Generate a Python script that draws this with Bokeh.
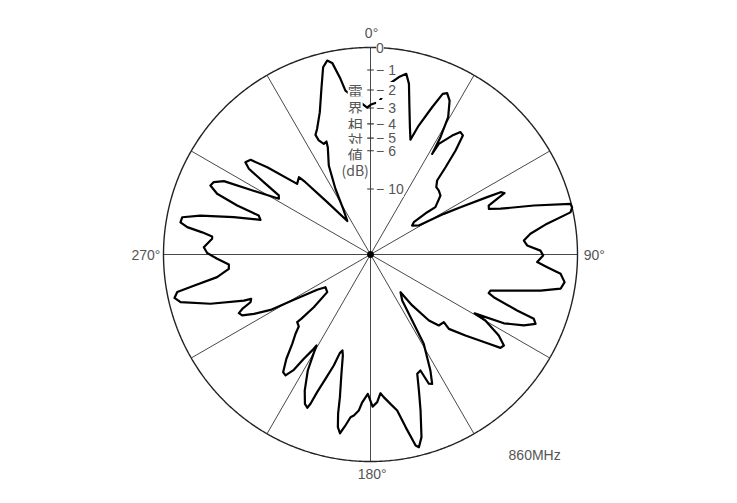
import numpy as np
from bokeh.plotting import figure
from bokeh.models import Label, Range1d
from bokeh.embed import file_html
from bokeh.resources import INLINE

# Relative field pattern at 860 MHz: bearing (deg, clockwise from 0°) and relative field (1.0 = 0 dB)
angles_deg = [
    0.0, 1.0, 3.1, 4.25, 6.35, 9.1, 11.2, 12.7, 14.8, 17.2, 19.2, 20.5, 22.7, 24.2, 25.4, 27.2,
    29.5, 30.8, 31.5, 31.7, 34.5, 36.3, 37.8, 39.3, 40.7, 42.0, 44.3, 46.9, 49.9, 53.9, 53.3,
    53.3, 55.2, 59.0, 61.0, 62.3, 63.8, 64.4, 65.4, 66.3, 67.5, 68.9, 70.6, 73.3, 75.8, 76.9,
    78.1, 80.1, 82.6, 84.8, 86.7, 88.7, 90.3, 92.6, 94.1, 95.8, 98.1, 100.2, 102.0, 106.7,
    108.1, 109.1, 110.9, 111.5, 112.8, 114.8, 117.3, 119.5, 119.9, 122.3, 124.3, 125.7, 127.0,
    130.5, 133.5, 132.7, 136.1, 138.5, 140.7, 141.5, 145.4, 147.7, 149.2, 152.7, 154.5, 155.7,
    156.7, 158.6, 160.4, 162.2, 164.4, 165.9, 166.7, 168.5, 170.3, 172.4, 174.7, 175.9, 177.4,
    179.2, 181.1, 183.2, 184.3, 185.9, 187.0, 188.5, 189.7, 190.7, 191.5, 192.1, 193.7, 195.3,
    196.3, 197.3, 198.3, 199.9, 201.2, 201.9, 202.4, 203.7, 205.8, 208.4, 209.7, 210.7, 211.3,
    212.6, 213.6, 215.1, 216.6, 218.9, 221.2, 223.4, 224.9, 227.3, 227.1, 227.1, 229.0, 234.0,
    236.5, 239.4, 241.0, 243.0, 244.6, 246.0, 247.0, 248.3, 249.6, 250.0, 252.9, 255.9, 257.5,
    259.0, 260.0, 261.6, 264.2, 266.0, 268.4, 270.5, 272.5, 275.7, 276.5, 277.5, 278.5, 279.6,
    281.2, 282.9, 285.3, 287.5, 289.2, 290.2, 291.6, 293.3, 294.8, 296.6, 298.3, 301.3, 302.8,
    304.1, 305.2, 306.4, 308.3, 310.2, 313.9, 317.2, 318.0, 320.4, 325.3, 329.1, 331.9, 334.9,
    338.3, 338.7, 337.1, 335.6, 335.3, 337.0, 340.4, 343.5, 345.8, 347.4, 348.7, 350.3, 351.3,
    358.7,
]
rel_field = [
    0.723, 0.728, 0.738, 0.762, 0.83, 0.868, 0.89, 0.845, 0.736, 0.644, 0.587, 0.665, 0.771, 0.851, 0.863, 0.836,
    0.762, 0.66, 0.57, 0.628, 0.697, 0.734, 0.728, 0.649, 0.556, 0.481, 0.455, 0.452, 0.442, 0.388, 0.342,
    0.261, 0.245, 0.272, 0.405, 0.491, 0.628, 0.697, 0.712, 0.668, 0.618, 0.613, 0.666, 0.824, 0.997, 1.0,
    0.987, 0.866, 0.779, 0.744, 0.758, 0.821, 0.834, 0.806, 0.856, 0.923, 0.947, 0.933, 0.84, 0.605,
    0.601, 0.63, 0.758, 0.848, 0.865, 0.816, 0.725, 0.578, 0.64, 0.733, 0.78, 0.773, 0.716,
    0.603, 0.522, 0.482, 0.476, 0.426, 0.318, 0.233, 0.27, 0.377, 0.502, 0.631, 0.692, 0.685,
    0.61, 0.619, 0.697, 0.791, 0.916, 0.96, 0.948, 0.851, 0.765, 0.728, 0.692, 0.672, 0.714,
    0.735, 0.673, 0.715, 0.756, 0.782, 0.792, 0.84, 0.876, 0.849, 0.785, 0.705, 0.593, 0.506,
    0.483, 0.499, 0.565, 0.639, 0.713, 0.777, 0.801, 0.788, 0.73, 0.637, 0.562, 0.511, 0.542,
    0.598, 0.669, 0.714, 0.708, 0.647, 0.574, 0.527, 0.491, 0.482, 0.457, 0.374, 0.277, 0.269,
    0.309, 0.43, 0.552, 0.632, 0.686, 0.696, 0.673, 0.624, 0.615, 0.651, 0.809, 0.946, 0.97,
    0.951, 0.867, 0.749, 0.688, 0.686, 0.741, 0.789, 0.806, 0.769, 0.77, 0.82, 0.895, 0.931,
    0.927, 0.843, 0.685, 0.557, 0.572, 0.686, 0.797, 0.842, 0.834, 0.792, 0.659, 0.518, 0.527,
    0.623, 0.719, 0.751, 0.738, 0.653, 0.492, 0.509, 0.47, 0.328, 0.197, 0.257, 0.36, 0.475,
    0.558, 0.586, 0.58, 0.605, 0.636, 0.66, 0.73, 0.835, 0.933, 0.96, 0.944, 0.861, 0.801,
    0.71,
]

db_ticks = [0, 1, 2, 3, 4, 5, 6, 10]
db_tick_labels = ["0", "\u2212 1", "\u2212 2", "\u2212 3", "\u2212 4", "\u2212 5", "\u2212 6", "\u2212 10"]
spoke_angles = [0, 30, 60, 90, 120, 150]
direction_labels = ["0°", "90°", "180°", "270°"]
freq_label = "860MHz"
axis_title = ["電", "界", "相", "対", "値", "(dB)"]

W, H = 721, 487
S = 207.0          # pixels per unit of relative field
CX, CY = 370, 254  # centre of the diagram inside the figure (pixels)

p = figure(width=W, height=H, output_backend="svg", toolbar_location=None,
           x_range=Range1d(-CX / S, (W - CX) / S), y_range=Range1d(-(H - CY) / S, CY / S),
           x_axis_location=None, y_axis_location=None, min_border=0,
           outline_line_color=None, background_fill_color="white", border_fill_color="white")
p.xgrid.visible = False
p.ygrid.visible = False

# spokes every 30°
sa = np.radians(spoke_angles)
p.segment(x0=-np.sin(sa), y0=-np.cos(sa), x1=np.sin(sa), y1=np.cos(sa),
          line_color="#333333", line_width=0.9)

# outer 0 dB circle
t = np.linspace(0, 2 * np.pi, 721)
p.line(np.sin(t), np.cos(t), line_color="#222222", line_width=1.4)

# dB ticks on the 0° axis
tick_r = [10 ** (-d / 20.0) for d in db_ticks]
p.segment(x0=[-0.016] * len(tick_r), y0=tick_r, x1=[0.016] * len(tick_r), y1=tick_r,
          line_color="#333333", line_width=1.1)

# pattern
th = np.radians(angles_deg + angles_deg[:1])
rr = np.array(rel_field + rel_field[:1])
p.line(rr * np.sin(th), rr * np.cos(th), line_color="black", line_width=2.2,
       line_join="round", line_cap="round")

# centre dot
p.scatter(x=[0], y=[0], size=6, color="black")

TXT = "#555555"
FONT = "Liberation Sans"

for r, lab in zip(tick_r, db_tick_labels):
    p.add_layout(Label(x=0.027, y=r, text=lab, text_align="left", text_baseline="middle",
                       text_font=FONT, text_font_size="14px", text_color=TXT,
                       background_fill_color="white"))

# direction labels
p.add_layout(Label(x=0.005, y=1.07, text=direction_labels[0], text_align="center", text_baseline="middle",
                   text_font=FONT, text_font_size="14px", text_color=TXT))
p.add_layout(Label(x=1.03, y=0.0, text=direction_labels[1], text_align="left", text_baseline="middle",
                   text_font=FONT, text_font_size="14px", text_color=TXT))
p.add_layout(Label(x=0.008, y=-1.06, text=direction_labels[2], text_align="center", text_baseline="middle",
                   text_font=FONT, text_font_size="14px", text_color=TXT))
p.add_layout(Label(x=-1.015, y=0.0, text=direction_labels[3], text_align="right", text_baseline="middle",
                   text_font=FONT, text_font_size="14px", text_color=TXT))
p.add_layout(Label(x=0.667, y=-0.971, text=freq_label, text_align="left", text_baseline="middle",
                   text_font=FONT, text_font_size="14px", text_color=TXT))

# vertical axis title
title_y = [0.792, 0.712, 0.630, 0.556, 0.484, 0.406]
for ch, yy in zip(axis_title, title_y):
    p.add_layout(Label(x=-0.074, y=yy, text=ch, text_align="center", text_baseline="middle",
                       text_font="Noto Sans CJK JP", text_font_size="15px" if ch != "(dB)" else "14px",
                       text_color=TXT, background_fill_color="white"))

open("out.html", "w").write(file_html(p, INLINE))
